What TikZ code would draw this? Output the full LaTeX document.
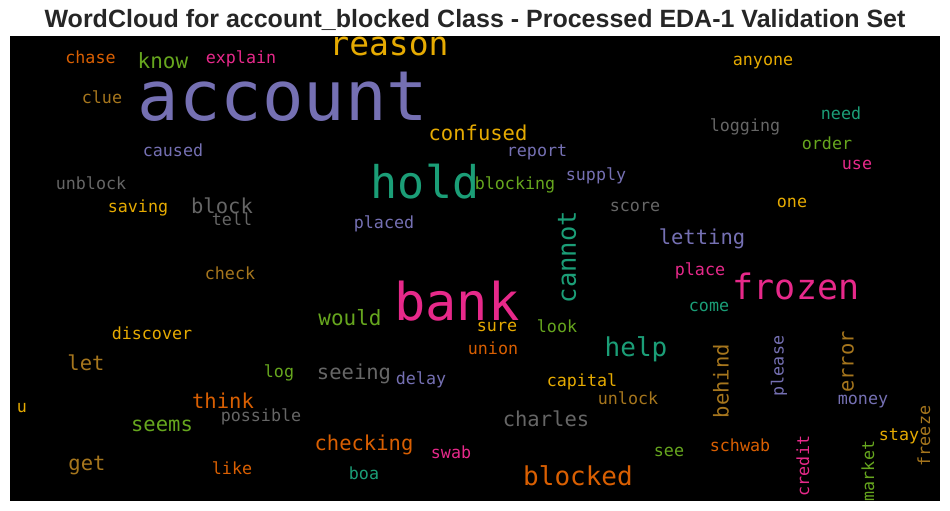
\documentclass[tikz,border=0pt]{standalone}
\usepackage{fontspec}
\setmainfont{Liberation Sans}
\newfontfamily\cloudfont{DejaVu Sans Mono}

\definecolor{cteal}{HTML}{1B9E77}
\definecolor{corange}{HTML}{D95F02}
\definecolor{cpurple}{HTML}{7570B3}
\definecolor{cpink}{HTML}{E7298A}
\definecolor{cgreen}{HTML}{66A61E}
\definecolor{cyellow}{HTML}{E6AB02}
\definecolor{cbrown}{HTML}{A6761D}
\definecolor{cgray}{HTML}{666666}
\definecolor{titlegray}{HTML}{262626}

\tikzset{word/.style={inner sep=0pt}}

\begin{document}
\begin{tikzpicture}[x=1pt,y=-1pt]
    \useasboundingbox (0,0) rectangle (950,511);

    % Draw the title
    \node[anchor=base, inner sep=0pt, font=\bfseries\fontsize{25}{28}\selectfont, text=titlegray] (title) at (475,28) {WordCloud for account\_blocked Class - Processed EDA-1 Validation Set};

    % Draw the black canvas
    \fill[black] (10,36) rectangle (940,501);

    % Draw the words (name/x/y/size/colour/rotation)
    \foreach \w/\x/\y/\s/\c/\r in {
        chase/90.5/57/16.7/corange/0, know/163/61/21/cgreen/0,
        explain/241/59/16.7/cpink/0, reason/389/46/33/cyellow/0,
        account/283/97/69/cpurple/0, clue/102/97/16.7/cbrown/0,
        caused/173/150/16.7/cpurple/0, confused/478/133/20.5/cyellow/0,
        anyone/763/63/16.7/cyellow/0, need/841/113/16.7/cteal/0,
        logging/745/127/16.7/cgray/0, order/827/143/16.7/cgreen/0,
        use/857/165/16.7/cpink/0, report/537/152/16.7/cpurple/0,
        unblock/91/183/16.7/cgray/0, saving/138/208/16.7/cyellow/0,
        block/222/206/20.5/cgray/0, tell/232/219/16.7/cgray/0,
        hold/425/182/45/cteal/0, placed/384/224/16.7/cpurple/0,
        check/230/273/16.7/cbrown/0, would/350/318/21/cgreen/0,
        bank/457/301/52/cpink/0, discover/152/333/16.7/cyellow/0,
        blocking/515/185/16.7/cgreen/0, supply/596/176/16.7/cpurple/0,
        score/635/207/16.7/cgray/0, cannot/567/257/25.5/cteal/90,
        one/792/203/16.7/cyellow/0, letting/702/239/20.5/cpurple/0,
        place/700/271/16.7/cpink/0, frozen/796/286/35/cpink/0,
        come/709/307/16.7/cteal/0, sure/497/327/16.7/cyellow/0,
        look/557/326/16.7/cgreen/0, union/493/348/16.7/corange/0,
        seeing/354/374/20.5/cgray/0, delay/421/380/16.7/cpurple/0,
        help/636/349/26/cteal/0, capital/582/382/16.7/cyellow/0,
        unlock/628/398/16.7/cbrown/0, let/86/363/20.5/cbrown/0,
        log/279/373/16.7/cgreen/0, u/22/408/16.7/cyellow/0,
        think/223/401/20.5/corange/0, possible/261/417/16.7/cgray/0,
        seems/162/426/20.5/cgreen/0, checking/364/445/20.5/corange/0,
        swab/451/452/16.7/cpink/0, get/87/465/20.5/cbrown/0,
        like/232/468/16.7/corange/0, boa/364/473/16.7/cteal/0,
        charles/546/419/20.5/cgray/0, behind/721/381/20.5/cbrown/90,
        please/779/366/16.7/cpurple/90, error/848/362/20.5/cbrown/90,
        money/863/402/16.7/cpurple/0, schwab/740/445/16.7/corange/0,
        see/669/452/16.7/cgreen/0, blocked/578/476/26/corange/0,
        credit/803/466/16.7/cpink/90, market/868/471/16.7/cgreen/90,
        stay/899/436/16.7/cyellow/0, freeze/924/436/16.7/cbrown/90}
        \node[word, text=\c, rotate=\r, font=\cloudfont\fontsize{\s}{\s}\selectfont] (\w) at (\x,\y) {\w};

\end{tikzpicture}
\end{document}
